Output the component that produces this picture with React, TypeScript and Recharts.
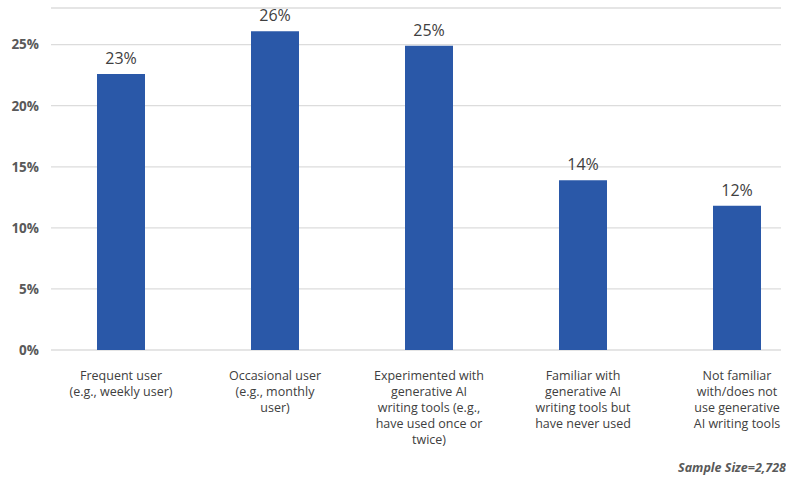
import React from 'react';
import { BarChart, Bar, XAxis, YAxis, CartesianGrid, LabelList } from 'recharts';

const categories = [
  ['Frequent user', '(e.g., weekly user)'],
  ['Occasional user', '(e.g., monthly', 'user)'],
  ['Experimented with', 'generative AI', 'writing tools (e.g.,', 'have used once or', 'twice)'],
  ['Familiar with', 'generative AI', 'writing tools but', 'have never used'],
  ['Not familiar', 'with/does not', 'use generative', 'AI writing tools'],
];
const shares = [22.6, 26.1, 24.9, 13.9, 11.8];
const shareLabels = ['23%', '26%', '25%', '14%', '12%'];
const yTicks = [0, 5, 10, 15, 20, 25];

const data = shares.map((v, i) => ({ idx: i, value: v, label: shareLabels[i] }));

const FONT = '"Open Sans", sans-serif';
const BAR = '#2A58A8';

const CategoryTick = ({ x, y, payload }: any) => {
  const lines = categories[payload.value] || [];
  return (
    <text x={x} y={y + 22} textAnchor="middle" fontSize={12.5} fill="#404040" fontFamily={FONT}>
      {lines.map((l, i) => (
        <tspan key={i} x={x} dy={i === 0 ? 0 : 16}>{l}</tspan>
      ))}
    </text>
  );
};

export default function App() {
  return (
    <div style={{ position: 'absolute', left: 0, top: 0, width: 786, height: 478, background: '#fff' }}>
      <BarChart
        width={786}
        height={478}
        data={data}
        margin={{ top: 8, right: 5, left: 0, bottom: 27 }}
      >
        <CartesianGrid vertical={false} stroke="#dcdcdc" strokeWidth={1.3} />
        <XAxis
          type="number"
          dataKey="idx"
          domain={[-70 / 154, 660 / 154]}
          ticks={[0, 1, 2, 3, 4]}
          allowDataOverflow
          axisLine={false}
          tickLine={false}
          height={101}
          tick={<CategoryTick />}
          interval={0}
        />
        <YAxis
          domain={[0, 28]}
          ticks={yTicks}
          width={51}
          axisLine={false}
          tickLine={false}
          tickSize={6}
          tickMargin={6}
          tickFormatter={(v: number) => `${v}%`}
          tick={{ fontSize: 13.5, fontWeight: 700, fill: '#595959', fontFamily: FONT }}
        />
        <Bar dataKey="value" fill={BAR} barSize={48} isAnimationActive={false}>
          <LabelList
            dataKey="label"
            position="top"
            offset={10}
            style={{ fontSize: 16, fill: '#404040', fontFamily: FONT }}
          />
        </Bar>
      </BarChart>
      <div
        style={{
          position: 'absolute',
          left: 0,
          width: 786,
          textAlign: 'right',
          top: 459,
          fontFamily: FONT,
          fontSize: 12.5,
          fontWeight: 700,
          fontStyle: 'italic',
          color: '#595959',
          whiteSpace: 'nowrap',
        }}
      >
        Sample Size=2,728
      </div>
    </div>
  );
}
